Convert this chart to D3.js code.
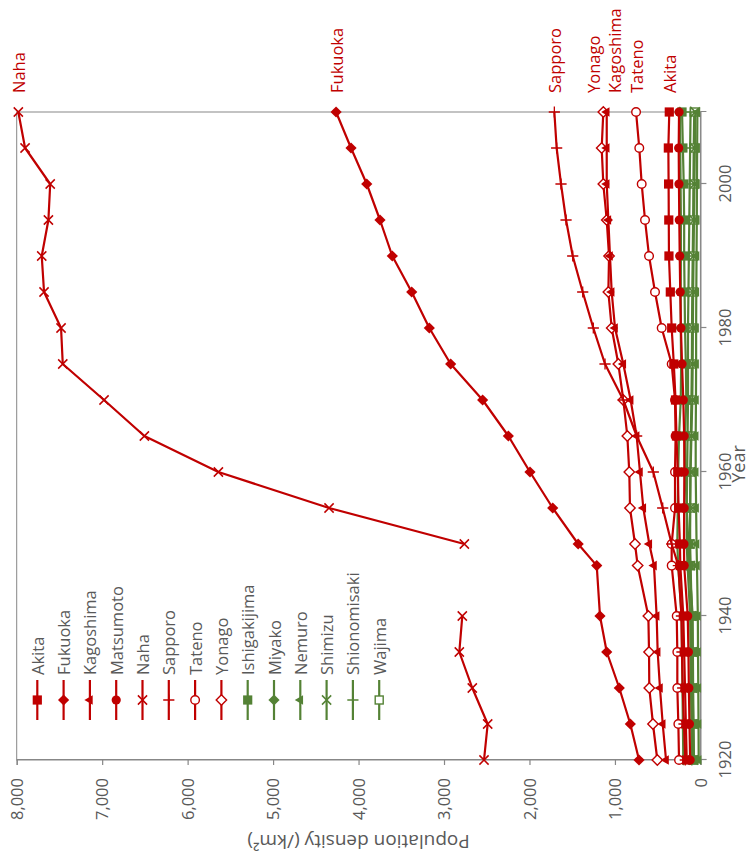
<!DOCTYPE html>
<html><head><meta charset="utf-8">
<script src="https://cdn.jsdelivr.net/npm/d3@7"></script>
<style>body{margin:0;background:#fff} text{font-family:"Open Sans",sans-serif}</style>
</head><body><svg id="c" width="751" height="866"></svg>
<script>
const years = [1920,1925,1930,1935,1940,1947,1950,1955,1960,1965,1970,1975,1980,1985,1990,1995,2000,2005,2010];
const akita        = [160,170,180,190,200,235,240,255,265,280,291,311,336,352,368,370,372,375,364];
const fukuoka      = [718,820,949,1096,1175,1213,1430,1728,1994,2247,2548,2922,3172,3378,3605,3749,3904,4088,4263];
const kagoshima    = [402,441,473,500,512,543,598,668,707,746,816,902,999,1038,1058,1077,1096,1096,1096];
const matsumoto    = [120,128,135,140,148,190,192,190,188,190,200,215,228,236,242,247,251,254,250];
const naha         = [2532,2489,2669,2821,2786,null,2762,4345,5640,6506,6978,7461,7481,7680,7707,7629,7608,7902,7981];
const sapporo      = [177,192,207,216,222,258,336,441,551,746,902,1116,1253,1377,1494,1572,1631,1682,1709];
const tateno       = [250,258,270,270,277,336,336,297,297,290,297,336,453,531,601,648,687,715,753];
const yonago       = [504,555,598,601,609,734,765,824,832,855,902,960,1038,1077,1069,1096,1136,1155,1136];
const ishigakijima = [75,80,85,88,90,130,140,160,175,180,165,170,180,185,190,190,195,205,215];
const miyako       = [200,205,210,215,220,260,270,265,260,250,230,225,230,230,228,228,232,236,240];
const nemuro       = [20,22,25,28,30,40,45,50,55,55,52,50,50,48,45,42,40,38,35];
const shimizu      = [80,85,90,95,100,120,125,120,115,105,95,90,88,85,80,75,70,65,60];
const shionomisaki = [100,105,110,115,120,150,160,160,155,150,145,145,145,140,135,130,125,120,115];
const wajima       = [90,95,100,100,100,115,120,120,118,112,105,100,98,95,90,85,82,78,72];

const seriesNames = ["Akita","Fukuoka","Kagoshima","Matsumoto","Naha","Sapporo","Tateno","Yonago",
                     "Ishigakijima","Miyako","Nemuro","Shimizu","Shionomisaki","Wajima"];
const seriesValues = [akita,fukuoka,kagoshima,matsumoto,naha,sapporo,tateno,yonago,
                      ishigakijima,miyako,nemuro,shimizu,shionomisaki,wajima];
const seriesGroup = ["red","red","red","red","red","red","red","red","green","green","green","green","green","green"];
const seriesMarker = ["square","diamond","triangle","circle","x","plus","circleOpen","diamondOpen",
                      "square","diamond","triangle","x","plus","squareOpen"];
const labelledSeries = ["Naha","Fukuoka","Sapporo","Yonago","Kagoshima","Tateno","Akita"];
const labelNudge = {Yonago:-10, Kagoshima:8};
const densityTicks = [0,1000,2000,3000,4000,5000,6000,7000,8000];
const yearTicks = [1920,1940,1960,1980,2000];

const colors = {red:"#C00000", green:"#548235"};
const axisGray = "#878787", textGray = "#595959";

const svg = d3.select("#c");
svg.append("rect").attr("width",751).attr("height",866).attr("fill","#fff");
// chart drawn in its own frame (866 wide x 751 tall), then turned a quarter-turn counter-clockwise
const g = svg.append("g").attr("transform","translate(0,866) rotate(-90)");

const x = d3.scaleLinear().domain([1920,2010]).range([106,754]);
const y = d3.scaleLinear().domain([0,8000]).range([700.4,16.7]);

// plot border
g.append("rect").attr("x",x(1920)).attr("y",y(8000)).attr("width",x(2010)-x(1920)).attr("height",y(0)-y(8000))
  .attr("fill","none").attr("stroke",axisGray).attr("stroke-width",1);

// axes
const yAxis = g.append("g").attr("transform",`translate(${x(1920)},0)`)
  .call(d3.axisLeft(y).tickValues(densityTicks).tickFormat(d3.format(",")).tickSize(5).tickPadding(13));
const xAxis = g.append("g").attr("transform",`translate(0,${y(0)})`)
  .call(d3.axisBottom(x).tickValues(yearTicks).tickFormat(d3.format("d")).tickSize(6));
[xAxis,yAxis].forEach(a=>{
  a.selectAll("path,line").attr("stroke",axisGray).attr("stroke-width",1.2);
  a.selectAll("text").attr("fill",textGray).style("font-size","16.5px").style("font-family","'Open Sans',sans-serif");
});
xAxis.selectAll("text").attr("y",25).attr("dy","0.35em");
yAxis.selectAll("text").attr("dy","0.35em");

// axis titles
g.append("text").attr("x",402).attr("y",738).attr("text-anchor","middle").attr("dominant-baseline","central")
  .attr("fill",textGray).style("font-size","18px").text("Year");
g.append("text").attr("transform",`translate(24,${(y(0)+y(8000))/2}) rotate(-90)`)
  .attr("text-anchor","middle").attr("dominant-baseline","central")
  .attr("fill",textGray).style("font-size","19px").text("Population density (/km²)");

// marker drawing
function drawMarker(sel, type, color){
  const r = 4.6;
  if(type==="square") sel.append("rect").attr("x",-r).attr("y",-r).attr("width",2*r).attr("height",2*r).attr("fill",color);
  else if(type==="squareOpen") sel.append("rect").attr("x",-r+0.6).attr("y",-r+0.6).attr("width",2*r-1.2).attr("height",2*r-1.2).attr("fill","#fff").attr("stroke",color).attr("stroke-width",1.4);
  else if(type==="diamond") sel.append("path").attr("d",`M0,${-r-1}L${r+1},0L0,${r+1}L${-r-1},0Z`).attr("fill",color);
  else if(type==="diamondOpen") sel.append("path").attr("d",`M0,${-r-0.6}L${r+0.6},0L0,${r+0.6}L${-r-0.6},0Z`).attr("fill","#fff").attr("stroke",color).attr("stroke-width",1.4);
  else if(type==="triangle") sel.append("path").attr("d",d3.symbol().type(d3.symbolTriangle).size(40)()).attr("fill",color);
  else if(type==="circle") sel.append("circle").attr("r",r).attr("fill",color);
  else if(type==="circleOpen") sel.append("circle").attr("r",r-0.3).attr("fill","#fff").attr("stroke",color).attr("stroke-width",1.4);
  else if(type==="x") sel.append("path").attr("d",`M${-r},${-r}L${r},${r}M${-r},${r}L${r},${-r}`).attr("stroke",color).attr("stroke-width",1.5).attr("fill","none");
  else if(type==="plus") sel.append("path").attr("d",`M${-r-1},0L${r+1},0M0,${-r-1}L0,${r+1}`).attr("stroke",color).attr("stroke-width",1.3).attr("fill","none");
}

const line = d3.line().defined(d=>d[1]!=null).x(d=>x(d[0])).y(d=>y(d[1]));
const order = d3.range(seriesNames.length).reverse();
order.forEach(i=>{
  const col = colors[seriesGroup[i]];
  const pts = years.map((yr,j)=>[yr,seriesValues[i][j]]);
  const sg = g.append("g");
  sg.append("path").attr("d",line(pts)).attr("fill","none").attr("stroke",col).attr("stroke-width",2.2).attr("stroke-linejoin","round");
  pts.filter(d=>d[1]!=null).forEach(d=>{
    const m = sg.append("g").attr("transform",`translate(${x(d[0])},${y(d[1])})`);
    drawMarker(m, seriesMarker[i], col);
  });
});

// end labels
labelledSeries.forEach(name=>{
  const i = seriesNames.indexOf(name);
  const v = seriesValues[i][years.length-1];
  g.append("text").attr("x",x(2010)+19).attr("y",y(v)+(labelNudge[name]||0))
    .attr("dominant-baseline","central").attr("fill",colors.red).style("font-size","16.5px").text(name);
});

// legend
const lg = g.append("g");
seriesNames.forEach((name,i)=>{
  const col = colors[seriesGroup[i]];
  const cy = 37.3 + i*26.3;
  lg.append("line").attr("x1",146).attr("x2",186).attr("y1",cy).attr("y2",cy).attr("stroke",col).attr("stroke-width",2.2);
  const m = lg.append("g").attr("transform",`translate(166,${cy})`);
  drawMarker(m, seriesMarker[i], col);
  lg.append("text").attr("x",191).attr("y",cy).attr("dominant-baseline","central")
    .attr("fill",textGray).style("font-size","16.5px").text(name);
});
</script></body></html>
